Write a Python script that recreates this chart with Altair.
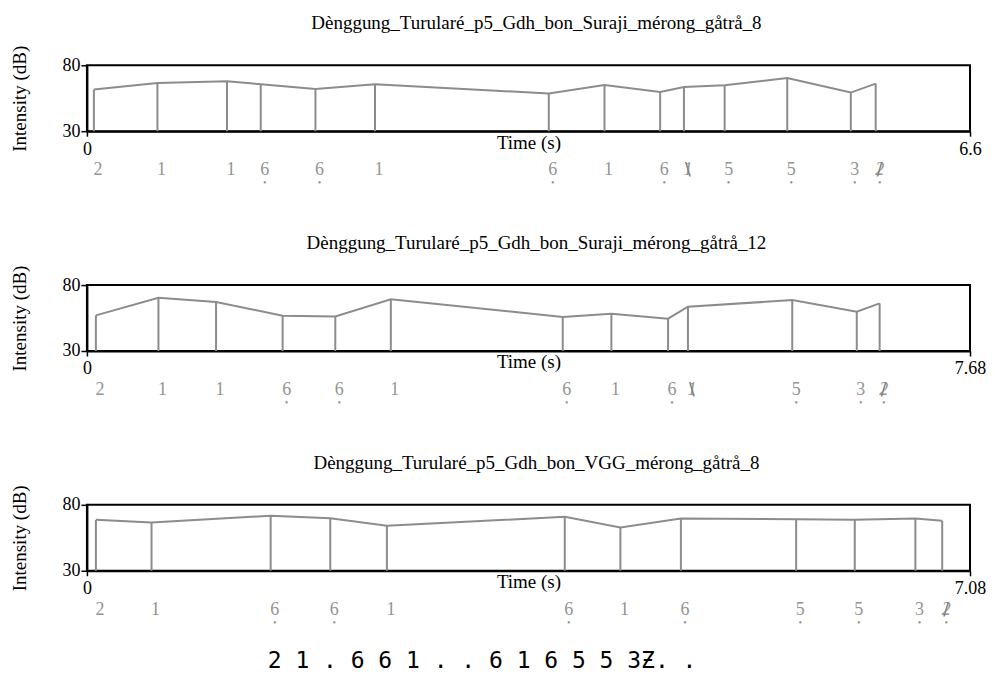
import altair as alt
import pandas as pd

SERIF = "Liberation Serif"

titles = [
    "Dènggung_Turularé_p5_Gdh_bon_Suraji_mérong_gåtrå_8",
    "Dènggung_Turularé_p5_Gdh_bon_Suraji_mérong_gåtrå_12",
    "Dènggung_Turularé_p5_Gdh_bon_VGG_mérong_gåtrå_8",
]
t_max = [6.6, 7.68, 7.08]

times1 = [0.052, 0.527, 1.047, 1.299, 1.708, 2.153, 3.452, 3.868, 4.284, 4.462, 4.766, 5.234, 5.709, 5.895]
db1 = [61.6, 66.6, 67.9, 65.6, 62.1, 65.6, 58.6, 65.1, 59.8, 63.6, 64.8, 70.4, 59.3, 66.1]
notes1 = ["2", "1", "1", "6", "6", "1", "6", "1", "6", "1", "5", "5", "3", "2"]
low1 = [0, 0, 0, 1, 1, 0, 1, 0, 1, 0, 1, 1, 1, 1]
stroke1 = ["", "", "", "", "", "", "", "", "", "\\", "", "", "", "/"]

times2 = [0.078, 0.622, 1.123, 1.702, 2.160, 2.643, 4.138, 4.561, 5.054, 5.227, 6.134, 6.695, 6.894]
db2 = [57.0, 70.4, 67.1, 56.8, 56.1, 69.2, 55.8, 58.3, 54.5, 63.6, 68.6, 59.8, 66.1]
notes2 = ["2", "1", "1", "6", "6", "1", "6", "1", "6", "1", "5", "3", "2"]
low2 = [0, 0, 0, 1, 1, 0, 1, 0, 1, 0, 1, 1, 1]
stroke2 = ["", "", "", "", "", "", "", "", "", "\\", "", "", "/"]

times3 = [0.072, 0.518, 1.473, 1.951, 2.405, 3.831, 4.277, 4.762, 5.686, 6.156, 6.642, 6.857]
db3 = [68.6, 66.6, 71.7, 69.9, 64.1, 70.9, 62.8, 69.6, 69.1, 68.6, 69.6, 67.9]
notes3 = ["2", "1", "6", "6", "1", "6", "1", "6", "5", "5", "3", "2"]
low3 = [0, 0, 1, 1, 0, 1, 0, 1, 1, 1, 1, 1]
stroke3 = ["", "", "", "", "", "", "", "", "", "", "", "/"]

bottom_notation = "2 1 . 6 6 1 . . 6 1 6 5 5 3\u01b5. ."

GREY = "#8c8c8c"
LABEL_GREY = "#949494"


def panel(title, tmax, times, dbs, notes, low, stroke, extra=None):
    df = pd.DataFrame({"t": times, "db": dbs, "note": notes,
                       "low": low, "strk": stroke})
    df["base"] = 30
    x = alt.X(
        "t:Q",
        scale=alt.Scale(domain=[0, tmax], nice=False, zero=False),
        axis=alt.Axis(values=[0, tmax], labelExpr="'' + datum.value",
                      title="Time (s)", titleY=17, titleBaseline="alphabetic",
                      labelPadding=4, tickSize=5),
    )
    y = alt.Y(
        "db:Q",
        scale=alt.Scale(domain=[30, 80], nice=False, zero=False),
        axis=alt.Axis(values=[30, 80], format="d", title="Intensity (dB)",
                      titlePadding=32, labelPadding=1, tickSize=6),
    )
    base = alt.Chart(df)
    line = base.mark_line(color=GREY, strokeWidth=2).encode(x=x, y=y)
    rules = base.mark_rule(color=GREY, strokeWidth=2).encode(
        x="t:Q", y="base:Q", y2="db:Q")
    labels = base.transform_filter("datum.strk == ''").mark_text(
        font=SERIF, fontSize=18, color=LABEL_GREY, dx=4,
        baseline="middle").encode(x="t:Q", y=alt.value(105), text="note:N")
    miring = base.transform_filter("datum.strk != ''").mark_text(
        font=SERIF, fontSize=18, fontStyle="italic", color=LABEL_GREY, dx=4,
        baseline="middle").encode(x="t:Q", y=alt.value(105), text="note:N")
    slashes = base.transform_filter("datum.strk != ''").mark_text(
        font="DejaVu Sans", fontSize=17, color="#7a7a7a", dx=4,
        baseline="middle").encode(x="t:Q", y=alt.value(105), text="strk:N")
    dots = base.transform_filter("datum.low == 1").mark_text(
        text="\u2022", font=SERIF, fontSize=10, color=LABEL_GREY, dx=4,
        baseline="middle").encode(x="t:Q", y=alt.value(118))
    layers = [rules, line, labels, miring, slashes, dots]
    if extra is not None:
        layers.append(extra)
    return alt.layer(*layers).properties(
        width=884, height=66,
        title=alt.TitleParams(title, font=SERIF, fontSize=19,
                              fontWeight="normal", anchor="middle",
                              offset=12, dx=8, color="black"),
    )


bottom_df = pd.DataFrame({"s": [bottom_notation.replace(" ", "\u00a0")]})
bottom = alt.Chart(bottom_df).mark_text(
    font="DejaVu Sans Mono", fontSize=23, color="black", align="left",
    baseline="middle").encode(x=alt.value(181), y=alt.value(156), text="s:N")

p1 = panel(titles[0], t_max[0], times1, db1, notes1, low1, stroke1)
p2 = panel(titles[1], t_max[1], times2, db2, notes2, low2, stroke2)
p3 = panel(titles[2], t_max[2], times3, db3, notes3, low3, stroke3, extra=bottom)

chart = alt.vconcat(p1, p2, p3, spacing=154, bounds="flush").properties(
    padding={"left": 2, "top": 4, "right": 0, "bottom": 0}
).configure_view(
    stroke="black", strokeWidth=2
).configure_axis(
    labelFont=SERIF, labelFontSize=18, labelColor="black",
    titleFont=SERIF, titleFontSize=19, titleFontWeight="normal",
    titleColor="black", domainColor="black", domainWidth=2,
    tickColor="black", tickWidth=1.5, grid=False, labelFlush=False,
).configure_concat(spacing=154)

chart.save("out.html", embed_options={"renderer": "svg", "actions": False})
